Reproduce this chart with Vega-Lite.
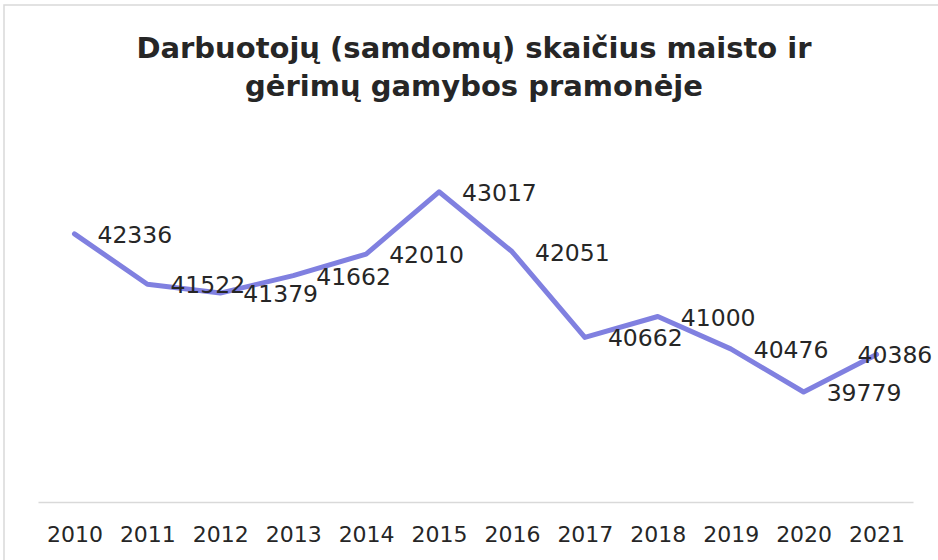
{
  "$schema": "https://vega.github.io/schema/vega-lite/v6.json",
  "width": 940,
  "height": 600,
  "autosize": "none",
  "padding": {"left": 4, "top": 5, "right": 0, "bottom": 0},
  "background": "white",
  "config": {
    "view": {"stroke": "#d9d9d9", "strokeWidth": 1.5},
    "font": "DejaVu Sans"
  },
  "title": {
    "text": ["Darbuotojų (samdomų) skaičius maisto ir", "gėrimų gamybos pramonėje"],
    "fontSize": 29,
    "fontWeight": "bold",
    "color": "#262626",
    "anchor": "middle",
    "frame": "group",
    "baseline": "top",
    "offset": -30,
    "dy": 67,
    "lineHeight": 38
  },
  "data": {
    "values": [
      {"year": "2010", "value": 42336},
      {"year": "2011", "value": 41522},
      {"year": "2012", "value": 41379},
      {"year": "2013", "value": 41662},
      {"year": "2014", "value": 42010},
      {"year": "2015", "value": 43017},
      {"year": "2016", "value": 42051},
      {"year": "2017", "value": 40662},
      {"year": "2018", "value": 41000},
      {"year": "2019", "value": 40476},
      {"year": "2020", "value": 39779},
      {"year": "2021", "value": 40386}
    ]
  },
  "encoding": {
    "x": {
      "field": "year",
      "type": "ordinal",
      "scale": {"type": "point", "range": [34, 909], "padding": 0.5},
      "axis": {
        "orient": "bottom",
        "offset": -103,
        "title": null,
        "labelAngle": 0,
        "labelFontSize": 22,
        "labelColor": "#262626",
        "labelPadding": 22,
        "ticks": false,
        "grid": false,
        "domainColor": "#d9d9d9",
        "domainWidth": 1.5
      }
    },
    "y": {
      "field": "value",
      "type": "quantitative",
      "scale": {"domain": [38000, 44000], "range": [497, 126], "zero": false},
      "axis": null
    }
  },
  "layer": [
    {
      "mark": {"type": "line", "color": "#8080e0", "strokeWidth": 5, "strokeJoin": "round", "strokeCap": "round"}
    },
    {
      "transform": [{"filter": "datum.year != '2021'"}],
      "mark": {"type": "text", "align": "left", "baseline": "middle", "dx": 23, "dy": 2, "fontSize": 23.5, "color": "#262626"},
      "encoding": {"text": {"field": "value", "type": "nominal"}}
    },
    {
      "transform": [{"filter": "datum.year == '2021'"}],
      "mark": {"type": "text", "align": "left", "baseline": "middle", "dx": -19, "dy": 2, "fontSize": 23.5, "color": "#262626"},
      "encoding": {"text": {"field": "value", "type": "nominal"}}
    }
  ]
}
